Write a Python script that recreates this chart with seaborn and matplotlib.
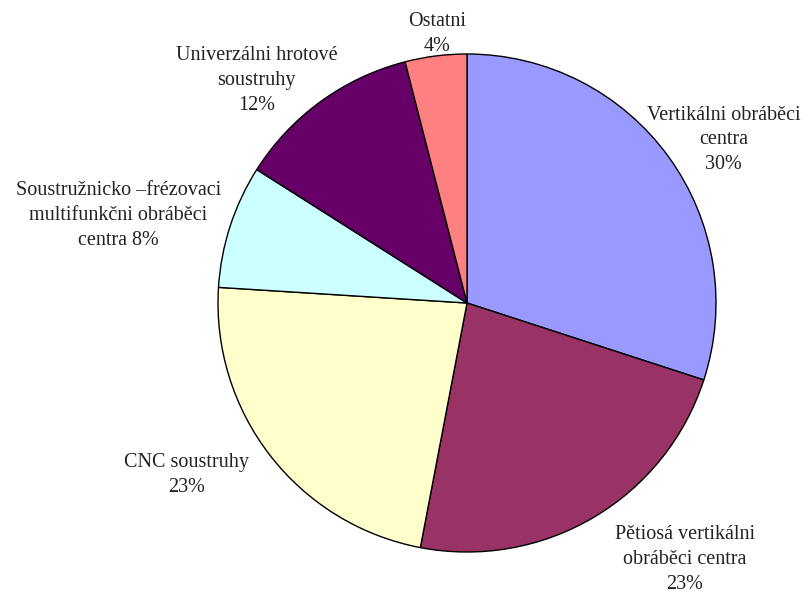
import matplotlib
matplotlib.use("Agg")
import matplotlib.pyplot as plt
import seaborn as sns

sns.set_style("white")
plt.rcParams["font.family"] = ["Liberation Serif", "DejaVu Serif"]

# Machine-tool market shares (%)
categories = [
    "Vertikálni obráběci\ncentra",
    "Pětiosá vertikálni\nobráběci centra",
    "CNC soustruhy",
    "Soustružnicko –frézovaci\nmultifunkčni obráběci\ncentra",
    "Univerzálni hrotové\nsoustruhy",
    "Ostatni",
]
shares = [30, 23, 23, 8, 12, 4]
colors = ["#9999FF", "#993366", "#FFFFCC", "#CCFFFF", "#660066", "#FF8080"]

# label block centres in pie units (radius = 1)
label_pos = [
    (1.03, 0.655),
    (0.875, -1.03),
    (-1.125, -0.69),
    (-1.40, 0.35),
    (-0.845, 0.895),
    (-0.12, 1.08),
]

W, H = 807, 597
fig = plt.figure(figsize=(W / 100, H / 100), dpi=100)
cx, cy, r = 467, 303, 249
ax = fig.add_axes([(cx - r) / W, (H - cy - r) / H, 2 * r / W, 2 * r / H])

wedges, _ = ax.pie(
    shares,
    colors=colors,
    startangle=90,
    counterclock=False,
    radius=1.0,
    wedgeprops=dict(edgecolor="black", linewidth=1.0),
)
ax.set_xlim(-1, 1)
ax.set_ylim(-1, 1)
ax.set_axis_off()

for name, val, (x, y) in zip(categories, shares, label_pos):
    if name.endswith("\ncentra") and name.startswith("Soustružnicko"):
        text = name + f" {val}%"
    else:
        text = f"{name}\n{val}%"
    ax.text(x, y, text, ha="center", va="center", fontsize=14.5,
            color="#222222", linespacing=1.42, clip_on=False)

fig.savefig("out.png", dpi=100, facecolor="white")
